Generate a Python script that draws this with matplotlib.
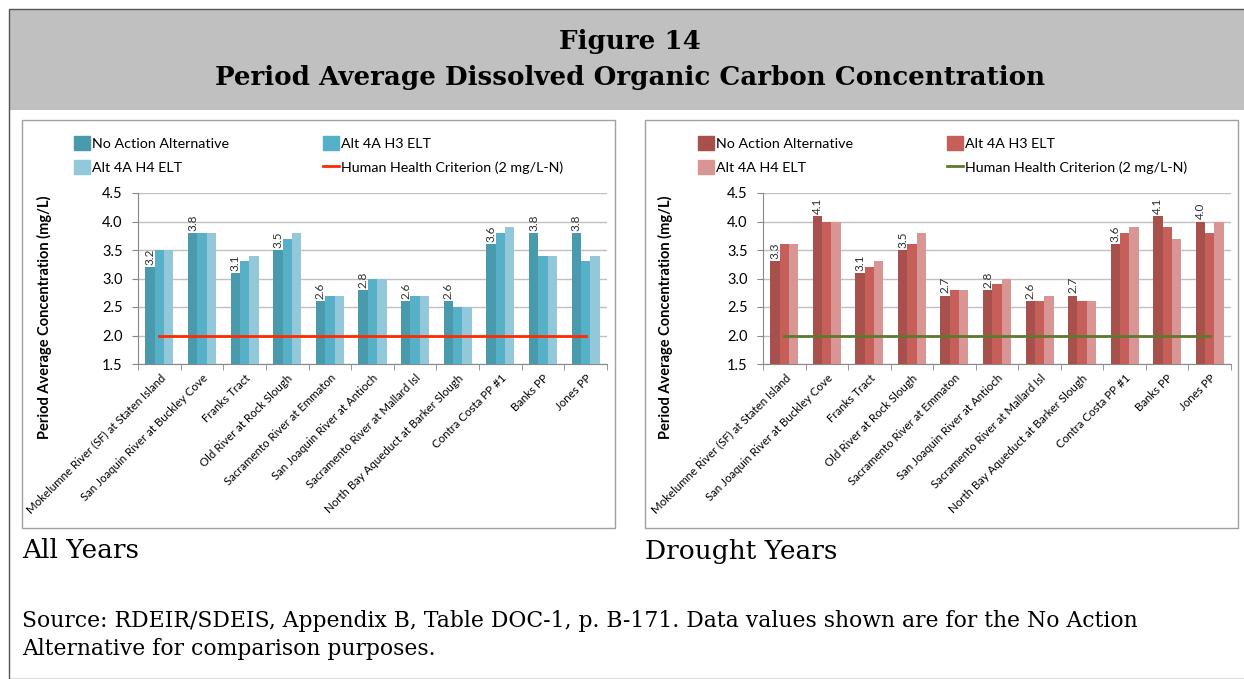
import matplotlib.pyplot as plt
import numpy as np
from matplotlib.patches import Rectangle, Patch
from matplotlib.lines import Line2D

sites = [
    "Mokelumne River (SF) at Staten Island",
    "San Joaquin River at Buckley Cove",
    "Franks Tract",
    "Old River at Rock Slough",
    "Sacramento River at Emmaton",
    "San Joaquin River at Antioch",
    "Sacramento River at Mallard Isl",
    "North Bay Aqueduct at Barker Slough",
    "Contra Costa PP #1",
    "Banks PP",
    "Jones PP",
]
series_names = ["No Action Alternative", "Alt 4A H3 ELT", "Alt 4A H4 ELT"]
criterion_name = "Human Health Criterion (2 mg/L-N)"
criterion = 2.0

all_no_action = [3.2, 3.8, 3.1, 3.5, 2.6, 2.8, 2.6, 2.6, 3.6, 3.8, 3.8]
all_h3 = [3.5, 3.8, 3.3, 3.7, 2.7, 3.0, 2.7, 2.5, 3.8, 3.4, 3.3]
all_h4 = [3.5, 3.8, 3.4, 3.8, 2.7, 3.0, 2.7, 2.5, 3.9, 3.4, 3.4]

dry_no_action = [3.3, 4.1, 3.1, 3.5, 2.7, 2.8, 2.6, 2.7, 3.6, 4.1, 4.0]
dry_h3 = [3.6, 4.0, 3.2, 3.6, 2.8, 2.9, 2.6, 2.6, 3.8, 3.9, 3.8]
dry_h4 = [3.6, 4.0, 3.3, 3.8, 2.8, 3.0, 2.7, 2.6, 3.9, 3.7, 4.0]

W, H = 1244, 679
SANS = ["Lato", "DejaVu Sans"]
SERIF = ["DejaVu Serif"]


def px(x, y, w, h):
    # pixel box (top-left origin) -> figure fraction rect
    return [x / W, 1 - (y + h) / H, w / W, h / H]


def draw_panel(fig, rect, data, colors, line_color, ylabel_x, legend_x):
    ax = fig.add_axes(rect)
    ax.patch.set_alpha(0)
    x = np.arange(len(sites))
    bw = 0.22
    for i, (vals, c) in enumerate(zip(data, colors)):
        ax.bar(x + (i - 1) * bw, np.array(vals) - 1.5, bw, bottom=1.5,
               color=c, zorder=3, linewidth=0)
    for xi, v in zip(x, data[0]):
        ax.text(xi - bw, v + 0.04, f"{v:.1f}", rotation=90, ha="center",
                va="bottom", fontsize=8.5, family=SANS, color="#303030")
    ax.plot([x[0], x[-1]], [criterion, criterion], color=line_color, lw=2, zorder=4)

    ax.set_xlim(-0.5, len(sites) - 0.5)
    ax.set_ylim(1.5, 4.5)
    ax.set_yticks(np.arange(1.5, 4.51, 0.5))
    ax.set_yticklabels([f"{t:.1f}" for t in np.arange(1.5, 4.51, 0.5)],
                       family=SANS, fontsize=10.5)
    ax.yaxis.grid(True, color="#c0c0c0", lw=1, zorder=0)
    ax.set_axisbelow(True)
    ax.set_xticks(x)
    ax.set_xticklabels(sites, rotation=45, ha="right", va="top",
                       rotation_mode="anchor", family=SANS, fontsize=8.3)
    ax.set_xticks(np.arange(-0.5, len(sites)), minor=True)
    ax.tick_params(axis="x", which="major", length=0, pad=6)
    ax.tick_params(axis="x", which="minor", length=4, color="#888888", direction="out")
    ax.tick_params(axis="y", length=4, color="#888888", pad=7)
    for s in ["top", "right"]:
        ax.spines[s].set_visible(False)
    for s in ["left", "bottom"]:
        ax.spines[s].set_color("#888888")

    fig.text(ylabel_x / W, 1 - 317 / H, "Period Average Concentration (mg/L)",
             rotation=90, ha="center", va="center", fontsize=10.5,
             fontweight="bold", family=SANS)

    handles = [Patch(color=colors[0]), Patch(color=colors[2]),
               Patch(color=colors[1]), Line2D([], [], color=line_color, lw=2)]
    labels = [series_names[0], series_names[2], series_names[1], criterion_name]
    fig.legend(handles, labels, loc="upper left",
               bbox_to_anchor=(legend_x / W, 1 - 136 / H), ncol=2, frameon=False,
               prop={"family": SANS, "size": 10.3}, handlelength=1.1,
               handleheight=1.1, handletextpad=0.15, columnspacing=6.6,
               labelspacing=0.75, borderaxespad=0, borderpad=0)
    return ax


fig = plt.figure(figsize=(W / 100, H / 100), dpi=100)

# header band and outer frame
fig.patches.append(Rectangle((9 / W, 1 - 110 / H), 1 - 9 / W, 101 / H,
                             transform=fig.transFigure, facecolor="#bfc0bf",
                             edgecolor="none", zorder=-2))
fig.patches.append(Rectangle((9 / W, 0), 1, 1 - 9 / H, transform=fig.transFigure,
                             facecolor="none", edgecolor="#555555", lw=1, zorder=-1))
fig.text(630 / W, 1 - 42 / H, "Figure 14", ha="center", va="center",
         fontsize=18.8, fontweight="bold", family=SERIF)
fig.text(630 / W, 1 - 78 / H, "Period Average Dissolved Organic Carbon Concentration",
         ha="center", va="center", fontsize=18.8, fontweight="bold", family=SERIF)

# chart boxes
for bx in (22, 645):
    fig.patches.append(Rectangle((bx / W, 1 - 528 / H), 593 / W, 408 / H,
                                 transform=fig.transFigure, facecolor="white",
                                 edgecolor="#a0a0a0", lw=1, zorder=-1))

draw_panel(fig, px(138, 193, 469, 171), [all_no_action, all_h3, all_h4],
           ["#4a9aae", "#55b0c8", "#93c8da"], "#ff2a00", 44, 74)
draw_panel(fig, px(763, 193, 468, 171), [dry_no_action, dry_h3, dry_h4],
           ["#a8504b", "#c65f5a", "#d99593"], "#5b7a2e", 665, 698)

fig.text(22 / W, 1 - 551 / H, "All Years", ha="left", va="center",
         fontsize=19, family=SERIF)
fig.text(645 / W, 1 - 551 / H, "Drought Years", ha="left", va="center",
         fontsize=19, family=SERIF)
fig.text(22 / W, 1 - 621 / H,
         "Source: RDEIR/SDEIS, Appendix B, Table DOC-1, p. B-171. Data values shown are for the No Action",
         ha="left", va="center", fontsize=15.75, family=SERIF)
fig.text(22 / W, 1 - 649 / H, "Alternative for comparison purposes.",
         ha="left", va="center", fontsize=15.75, family=SERIF)

fig.savefig("out.png", dpi=100)
